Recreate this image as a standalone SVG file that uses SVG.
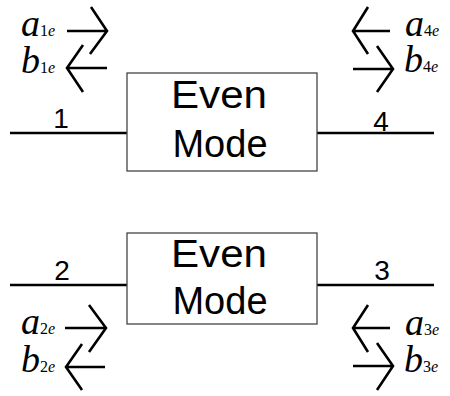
<svg xmlns="http://www.w3.org/2000/svg" width="450" height="396" viewBox="0 0 450 396">
<style>
.box{fill:#fff;stroke:#444;stroke-width:1.3}
.ln{stroke:#000;stroke-width:2.6;fill:none;stroke-linecap:butt}
.ar{stroke:#000;stroke-width:2.6;fill:none;stroke-linecap:butt;stroke-linejoin:miter}
.big{font-family:"Liberation Sans",Arial,sans-serif;font-size:38px;fill:#000;text-anchor:middle}
.num{font-family:"Liberation Sans",Arial,sans-serif;font-size:28px;fill:#000;text-anchor:middle}
.var{font-family:"Liberation Serif","Times New Roman",serif;font-style:italic;font-size:38px;fill:#000}
.sub{font-size:16px}
.up{font-style:normal}
</style>
<rect width="450" height="396" fill="#fff"/>
<g id="connectors">
<path class="ln" d="M10,133H127M317,133H434"/>
<path class="ln" d="M10,285H127M317,285H434"/>
<path class="ar" d="M67,31H107M91,7L107,31L90,54"/>
<path class="ar" d="M107,68H68M83,45L67,68L83,92"/>
<path class="ar" d="M390,31H354M368,7L353,31L368,54"/>
<path class="ar" d="M353,69H392M377,46L393,69L377,92"/>
<path class="ar" d="M65,328H105M89,305L106,328L89,352"/>
<path class="ar" d="M105,367H67M82,344L66,367L82,390"/>
<path class="ar" d="M390,328H354M368,305L353,328L368,352"/>
<path class="ar" d="M353,366H392M377,343L393,366L377,390"/>
</g>
<g id="top-box">
<rect class="box" x="127" y="73" width="190" height="98"/>
<text class="big" x="219" y="108" textLength="96" lengthAdjust="spacingAndGlyphs">Even</text>
<text class="big" x="220" y="157">Mode</text>
</g>
<g id="bottom-box">
<rect class="box" x="127" y="233" width="190" height="91"/>
<text class="big" x="219" y="267" textLength="96" lengthAdjust="spacingAndGlyphs">Even</text>
<text class="big" x="220" y="314">Mode</text>
</g>
<g id="port-labels">
<text class="num" x="61" y="128">1</text>
<text class="num" x="381" y="131">4</text>
<text class="num" x="62" y="280">2</text>
<text class="num" x="382" y="280">3</text>
</g>
<g id="wave-labels">
<text class="var" x="21" y="36">a<tspan class="sub"><tspan class="up">1</tspan>e</tspan></text>
<text class="var" x="21" y="73">b<tspan class="sub"><tspan class="up">1</tspan>e</tspan></text>
<text class="var" x="405" y="36">a<tspan class="sub"><tspan class="up">4</tspan>e</tspan></text>
<text class="var" x="404" y="72">b<tspan class="sub"><tspan class="up">4</tspan>e</tspan></text>
<text class="var" x="21" y="334">a<tspan class="sub"><tspan class="up">2</tspan>e</tspan></text>
<text class="var" x="21" y="372">b<tspan class="sub"><tspan class="up">2</tspan>e</tspan></text>
<text class="var" x="405" y="335">a<tspan class="sub"><tspan class="up">3</tspan>e</tspan></text>
<text class="var" x="404" y="372">b<tspan class="sub"><tspan class="up">3</tspan>e</tspan></text>
</g>
</svg>
